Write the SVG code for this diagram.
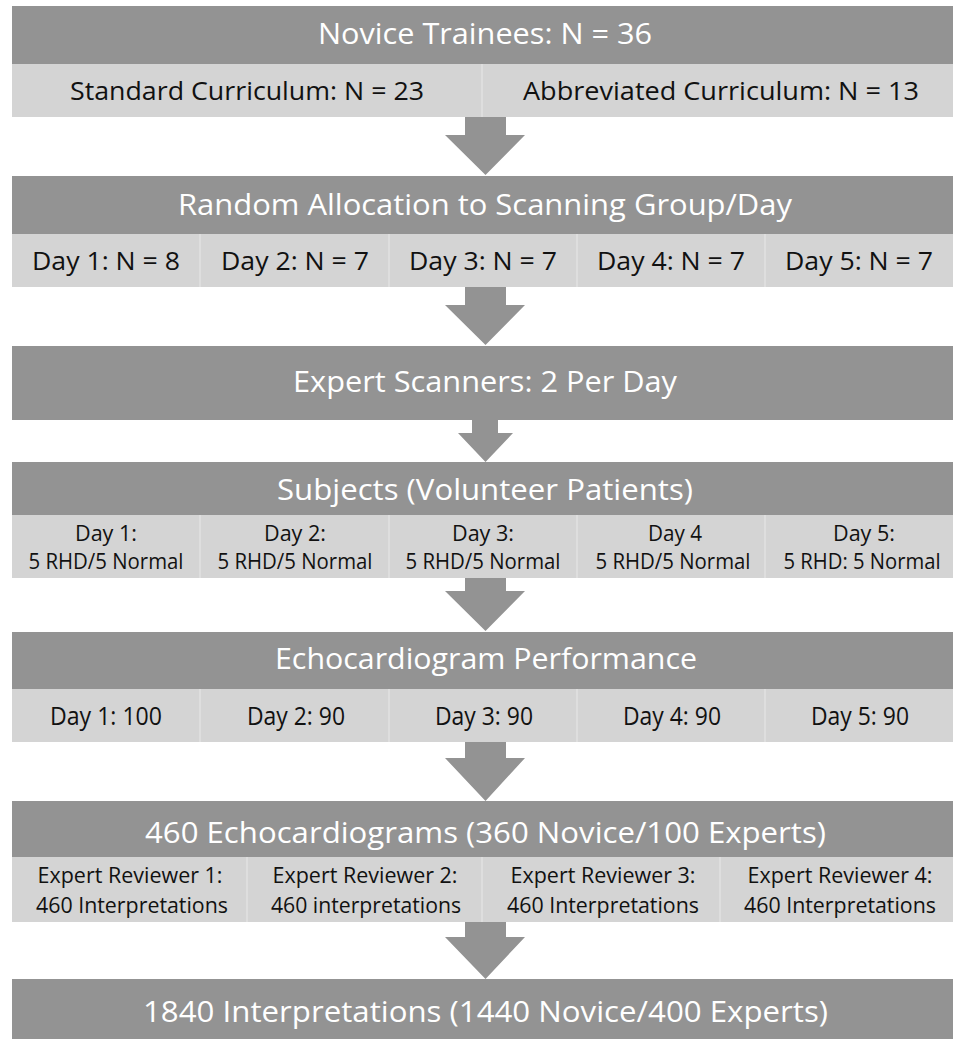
<svg xmlns="http://www.w3.org/2000/svg" width="953" height="1039" viewBox="0 0 953 1039">
<style>
.dk{fill:#939393}
.lt{fill:#d4d4d4}
.dv{stroke:#e2e2e2;stroke-width:1.5}
.ar{fill:#939393}
text{font-family:"Open Sans","Noto Sans","Liberation Sans",sans-serif;text-anchor:middle}
.h{fill:#ffffff;font-size:29px}
.c{fill:#111111;font-size:25px}
.s{fill:#111111;font-size:21px}
.r{fill:#111111;font-size:21px}
</style>
<rect width="953" height="1039" fill="#ffffff"/>
<g id="connectors">
<polygon class="ar" points="465,117 506,117 506,135 525,135 485.5,175 445,135 465,135"/>
<polygon class="ar" points="465,287 506,287 506,305 525,305 485.5,345 445,305 465,305"/>
<polygon class="ar" points="472,420 498,420 498,433 513,433 485.5,462 458,433 472,433"/>
<polygon class="ar" points="465,578 506,578 506,591 525,591 485.5,631 445,591 465,591"/>
<polygon class="ar" points="465,742 506,742 506,758 525,758 485.5,801 445,758 465,758"/>
<polygon class="ar" points="465,922 506,922 506,937 525,937 485.5,979 445,937 465,937"/>
</g>
<g id="novice-trainees">
<rect class="dk" x="12" y="6" width="941" height="58"/>
<text class="h" x="485" y="44" textLength="334" lengthAdjust="spacingAndGlyphs">Novice Trainees: N = 36</text>
<rect class="lt" x="12" y="64" width="941" height="53"/>
<line class="dv" x1="482" y1="64" x2="482" y2="117"/>
<text class="c" x="247" y="100" textLength="354" lengthAdjust="spacingAndGlyphs">Standard Curriculum: N = 23</text>
<text class="c" x="721" y="100" textLength="396" lengthAdjust="spacingAndGlyphs">Abbreviated Curriculum: N = 13</text>
</g>
<g id="random-allocation">
<rect class="dk" x="12" y="176" width="941" height="58"/>
<text class="h" x="485" y="215" textLength="614" lengthAdjust="spacingAndGlyphs">Random Allocation to Scanning Group/Day</text>
<rect class="lt" x="12" y="234" width="941" height="53"/>
<line class="dv" x1="200" y1="234" x2="200" y2="287"/>
<line class="dv" x1="389" y1="234" x2="389" y2="287"/>
<line class="dv" x1="577" y1="234" x2="577" y2="287"/>
<line class="dv" x1="765" y1="234" x2="765" y2="287"/>
<text class="c" x="106" y="270" textLength="148" lengthAdjust="spacingAndGlyphs">Day 1: N = 8</text>
<text class="c" x="295" y="270" textLength="148" lengthAdjust="spacingAndGlyphs">Day 2: N = 7</text>
<text class="c" x="483" y="270" textLength="148" lengthAdjust="spacingAndGlyphs">Day 3: N = 7</text>
<text class="c" x="671" y="270" textLength="148" lengthAdjust="spacingAndGlyphs">Day 4: N = 7</text>
<text class="c" x="859" y="270" textLength="148" lengthAdjust="spacingAndGlyphs">Day 5: N = 7</text>
</g>
<g id="expert-scanners">
<rect class="dk" x="12" y="346" width="941" height="74"/>
<text class="h" x="485" y="392" textLength="384" lengthAdjust="spacingAndGlyphs">Expert Scanners: 2 Per Day</text>
</g>
<g id="subjects">
<rect class="dk" x="12" y="462" width="941" height="53"/>
<text class="h" x="485" y="500" textLength="416" lengthAdjust="spacingAndGlyphs">Subjects (Volunteer Patients)</text>
<rect class="lt" x="12" y="515" width="941" height="63"/>
<line class="dv" x1="200" y1="515" x2="200" y2="578"/>
<line class="dv" x1="389" y1="515" x2="389" y2="578"/>
<line class="dv" x1="577" y1="515" x2="577" y2="578"/>
<line class="dv" x1="765" y1="515" x2="765" y2="578"/>
<text class="s" x="106" y="541" textLength="62" lengthAdjust="spacingAndGlyphs">Day 1:</text>
<text class="s" x="106" y="569" textLength="155" lengthAdjust="spacingAndGlyphs">5 RHD/5 Normal</text>
<text class="s" x="295" y="541" textLength="62" lengthAdjust="spacingAndGlyphs">Day 2:</text>
<text class="s" x="295" y="569" textLength="155" lengthAdjust="spacingAndGlyphs">5 RHD/5 Normal</text>
<text class="s" x="483" y="541" textLength="62" lengthAdjust="spacingAndGlyphs">Day 3:</text>
<text class="s" x="483" y="569" textLength="155" lengthAdjust="spacingAndGlyphs">5 RHD/5 Normal</text>
<text class="s" x="675" y="541" textLength="54" lengthAdjust="spacingAndGlyphs">Day 4</text>
<text class="s" x="673" y="569" textLength="155" lengthAdjust="spacingAndGlyphs">5 RHD/5 Normal</text>
<text class="s" x="864" y="541" textLength="62" lengthAdjust="spacingAndGlyphs">Day 5:</text>
<text class="s" x="862" y="569" textLength="157" lengthAdjust="spacingAndGlyphs">5 RHD: 5 Normal</text>
</g>
<g id="echo-performance">
<rect class="dk" x="12" y="632" width="941" height="57"/>
<text class="h" x="486" y="669" textLength="422" lengthAdjust="spacingAndGlyphs">Echocardiogram Performance</text>
<rect class="lt" x="12" y="689" width="941" height="53"/>
<line class="dv" x1="200" y1="689" x2="200" y2="742"/>
<line class="dv" x1="389" y1="689" x2="389" y2="742"/>
<line class="dv" x1="577" y1="689" x2="577" y2="742"/>
<line class="dv" x1="765" y1="689" x2="765" y2="742"/>
<text class="c" x="106" y="725" textLength="112" lengthAdjust="spacingAndGlyphs">Day 1: 100</text>
<text class="c" x="296" y="725" textLength="98" lengthAdjust="spacingAndGlyphs">Day 2: 90</text>
<text class="c" x="484" y="725" textLength="98" lengthAdjust="spacingAndGlyphs">Day 3: 90</text>
<text class="c" x="672" y="725" textLength="98" lengthAdjust="spacingAndGlyphs">Day 4: 90</text>
<text class="c" x="860" y="725" textLength="98" lengthAdjust="spacingAndGlyphs">Day 5: 90</text>
</g>
<g id="echocardiograms">
<rect class="dk" x="12" y="801" width="941" height="56"/>
<text class="h" x="485.5" y="843" textLength="681" lengthAdjust="spacingAndGlyphs">460 Echocardiograms (360 Novice/100 Experts)</text>
<rect class="lt" x="12" y="857" width="941" height="65"/>
<line class="dv" x1="247" y1="857" x2="247" y2="922"/>
<line class="dv" x1="482" y1="857" x2="482" y2="922"/>
<line class="dv" x1="720" y1="857" x2="720" y2="922"/>
<text class="r" x="130" y="883" textLength="185" lengthAdjust="spacingAndGlyphs">Expert Reviewer 1:</text>
<text class="r" x="132" y="913" textLength="192" lengthAdjust="spacingAndGlyphs">460 Interpretations</text>
<text class="r" x="365" y="883" textLength="185" lengthAdjust="spacingAndGlyphs">Expert Reviewer 2:</text>
<text class="r" x="366" y="913" textLength="190" lengthAdjust="spacingAndGlyphs">460 interpretations</text>
<text class="r" x="603" y="883" textLength="185" lengthAdjust="spacingAndGlyphs">Expert Reviewer 3:</text>
<text class="r" x="603" y="913" textLength="192" lengthAdjust="spacingAndGlyphs">460 Interpretations</text>
<text class="r" x="840" y="883" textLength="185" lengthAdjust="spacingAndGlyphs">Expert Reviewer 4:</text>
<text class="r" x="840" y="913" textLength="192" lengthAdjust="spacingAndGlyphs">460 Interpretations</text>
</g>
<g id="interpretations">
<rect class="dk" x="12" y="979" width="941" height="60"/>
<text class="h" x="485.5" y="1022" textLength="685" lengthAdjust="spacingAndGlyphs">1840 Interpretations (1440 Novice/400 Experts)</text>
</g>
</svg>
